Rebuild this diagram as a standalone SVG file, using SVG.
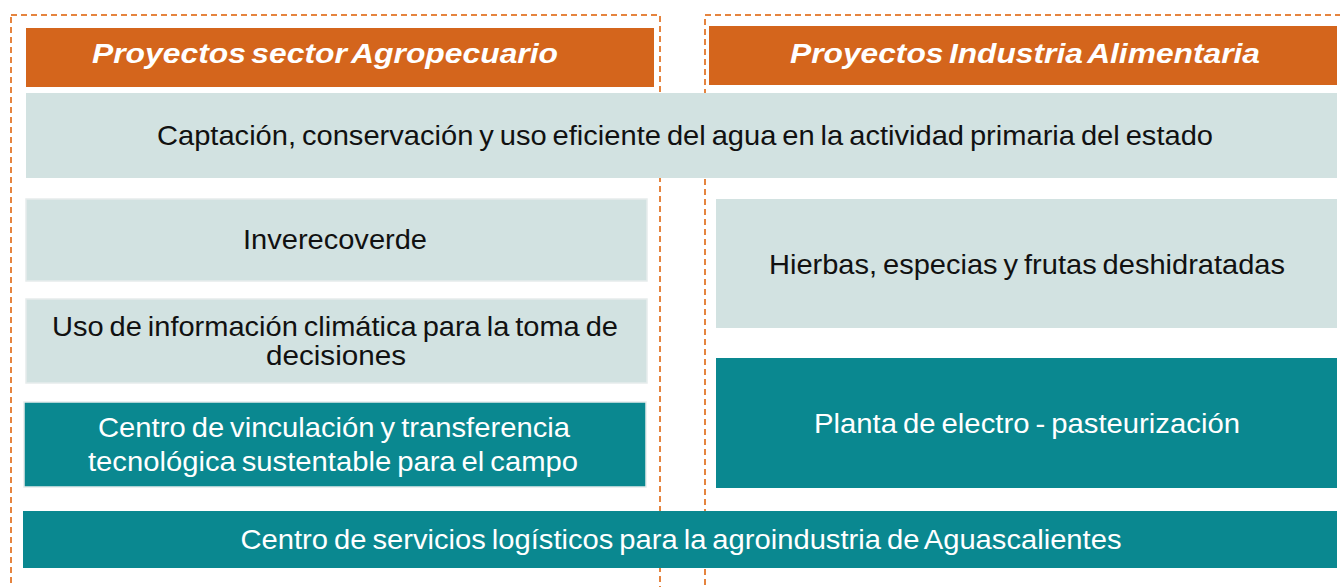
<svg xmlns="http://www.w3.org/2000/svg" width="1340" height="587" viewBox="0 0 1340 587">
<style>
.frame{fill:none;stroke:#E5843F;stroke-width:2;stroke-dasharray:6 4}
.hdr{fill:#D4651C}
.lt{fill:#D2E2E1}
.ltb{fill:#D2E2E1;stroke:#E6ECEC;stroke-width:1.5}
.dk{fill:#0A8890}
.dkb{fill:#0A8890;stroke:#E6ECEC;stroke-width:1.5}
.ht{font-family:"Liberation Sans",Arial,sans-serif;font-size:28px;font-weight:bold;font-style:italic;fill:#FFFFFF;text-anchor:middle;word-spacing:-3px}
.bt{font-family:"Liberation Sans",Arial,sans-serif;font-size:27.5px;fill:#111111;text-anchor:middle;word-spacing:-2px}
.wt{font-family:"Liberation Sans",Arial,sans-serif;font-size:27.5px;fill:#FFFFFF;text-anchor:middle;word-spacing:-2px}
</style>
<rect width="1340" height="587" fill="#FFFFFF"/>
<g id="frames">
<rect class="frame" x="11" y="15" width="649" height="600"/>
<rect class="frame" x="705" y="15" width="650" height="600"/>
</g>
<g id="header-agro">
<rect class="hdr" x="26" y="28" width="628" height="59"/>
<text class="ht" x="325" y="63" textLength="466" lengthAdjust="spacingAndGlyphs">Proyectos sector Agropecuario</text>
</g>
<g id="header-industria">
<rect class="hdr" x="709" y="26" width="628" height="59"/>
<text class="ht" x="1025" y="63" textLength="470" lengthAdjust="spacingAndGlyphs">Proyectos Industria Alimentaria</text>
</g>
<g id="captacion">
<rect class="lt" x="26" y="93" width="1311" height="85"/>
<text class="bt" x="685" y="145" textLength="1056" lengthAdjust="spacingAndGlyphs">Captación, conservación y uso eficiente del agua en la actividad primaria del estado</text>
</g>
<g id="inverecoverde">
<rect class="ltb" x="26" y="199" width="621" height="82"/>
<text class="bt" x="335" y="249" textLength="184" lengthAdjust="spacingAndGlyphs">Inverecoverde</text>
</g>
<g id="uso-informacion">
<rect class="ltb" x="26" y="299" width="621" height="84"/>
<text class="bt" x="335" y="336" textLength="566" lengthAdjust="spacingAndGlyphs">Uso de información climática para la toma de</text>
<text class="bt" x="336" y="365" textLength="140" lengthAdjust="spacingAndGlyphs">decisiones</text>
</g>
<g id="centro-vinculacion">
<rect class="dkb" x="24" y="402" width="622" height="85"/>
<text class="wt" x="334" y="437" textLength="472" lengthAdjust="spacingAndGlyphs">Centro de vinculación y transferencia</text>
<text class="wt" x="333" y="471" textLength="490" lengthAdjust="spacingAndGlyphs">tecnológica sustentable para el campo</text>
</g>
<g id="hierbas">
<rect class="lt" x="716" y="199" width="621" height="129"/>
<text class="bt" x="1027" y="274" textLength="516" lengthAdjust="spacingAndGlyphs">Hierbas, especias y frutas deshidratadas</text>
</g>
<g id="planta">
<rect class="dk" x="716" y="358" width="621" height="130"/>
<text class="wt" x="1027" y="433" textLength="426" lengthAdjust="spacingAndGlyphs">Planta de electro - pasteurización</text>
</g>
<g id="centro-servicios">
<rect class="dk" x="23" y="511" width="1314" height="57"/>
<text class="wt" x="681" y="549" textLength="881" lengthAdjust="spacingAndGlyphs">Centro de servicios logísticos para la agroindustria de Aguascalientes</text>
</g>
<g id="connectors"></g>
</svg>
